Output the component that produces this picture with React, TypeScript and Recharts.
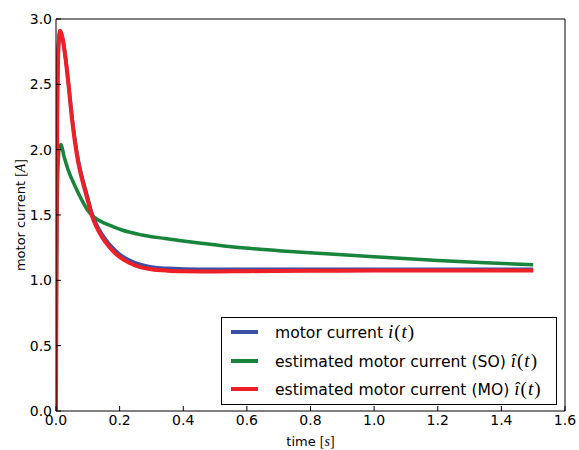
import React from 'react';
import { LineChart, Line, XAxis, YAxis, Label } from 'recharts';

// time samples [s] shared by the measured and MO-estimated current
const timeFast = [0, 0.001, 0.004, 0.008, 0.013, 0.02, 0.03, 0.04, 0.05, 0.06, 0.07, 0.08, 0.091, 0.1, 0.112, 0.125, 0.144, 0.165, 0.186, 0.205, 0.23, 0.26, 0.3, 0.35, 0.4, 0.5, 0.6, 0.8, 1.0, 1.2, 1.5];
const motorCurrent = [0, 1.0, 2.3, 2.8, 2.91, 2.86, 2.7, 2.49, 2.26, 2.07, 1.92, 1.81, 1.71, 1.63, 1.52, 1.44, 1.355, 1.285, 1.23, 1.19, 1.155, 1.125, 1.103, 1.092, 1.087, 1.084, 1.084, 1.084, 1.084, 1.084, 1.084];
const estimatedMO = [0, 1.0, 2.3, 2.8, 2.91, 2.86, 2.7, 2.48, 2.24, 2.05, 1.9, 1.79, 1.69, 1.61, 1.5, 1.42, 1.334, 1.262, 1.207, 1.17, 1.135, 1.105, 1.085, 1.074, 1.07, 1.068, 1.07, 1.073, 1.075, 1.075, 1.075];

// time samples [s] for the SO estimate
const timeSO = [0, 0.002, 0.006, 0.011, 0.016, 0.025, 0.039, 0.06, 0.081, 0.1, 0.112, 0.13, 0.154, 0.18, 0.207, 0.27, 0.343, 0.45, 0.55, 0.7, 0.85, 1.0, 1.2, 1.35, 1.5];
const estimatedSO = [0, 1.2, 1.85, 2.02, 2.04, 1.95, 1.84, 1.72, 1.615, 1.535, 1.5, 1.465, 1.436, 1.41, 1.385, 1.347, 1.32, 1.285, 1.257, 1.227, 1.203, 1.18, 1.152, 1.135, 1.12];

const xTicks = [0, 0.2, 0.4, 0.6, 0.8, 1.0, 1.2, 1.4, 1.6];
const yTicks = [0, 0.5, 1.0, 1.5, 2.0, 2.5, 3.0];

const BLUE = '#3a4fa6';
const GREEN = '#18843c';
const RED = '#ee1f27';

const SANS = '"DejaVu Sans", sans-serif';
const MATH = '"Liberation Serif", serif';
const TICK_LEN = 5;
const LABEL_GAP = 4;

const zip = (t: number[], v: number[]) => t.map((x, i) => ({ t: x, v: v[i] }));

const motorData = zip(timeFast, motorCurrent);
const moData = zip(timeFast, estimatedMO);
const soData = zip(timeSO, estimatedSO);

const legendRows = [
    { color: BLUE, text: 'motor current ', hat: false },
    { color: GREEN, text: 'estimated motor current (SO) ', hat: true },
    { color: RED, text: 'estimated motor current (MO) ', hat: true },
];

// matplotlib style: tick marks point into the plot, labels outside
const BottomTick = ({ x, y, payload }: any) => {
    const axisY = y - LABEL_GAP;
    return (
        <g>
            <line x1={x} x2={x} y1={axisY} y2={axisY - TICK_LEN} stroke="#000" />
            <text x={x} y={y} dy="0.71em" textAnchor="middle" fontFamily={SANS} fontSize={14} fill="#000">
                {payload.value.toFixed(1)}
            </text>
        </g>
    );
};

const LeftTick = ({ x, y, payload }: any) => {
    const axisX = x + LABEL_GAP;
    return (
        <g>
            <line x1={axisX} x2={axisX + TICK_LEN} y1={y} y2={y} stroke="#000" />
            <text x={x} y={y} dy="0.36em" textAnchor="end" fontFamily={SANS} fontSize={14} fill="#000">
                {payload.value.toFixed(1)}
            </text>
        </g>
    );
};

const TopTick = ({ x, y }: any) => <line x1={x} x2={x} y1={y} y2={y + TICK_LEN} stroke="#000" />;
const RightTick = ({ x, y }: any) => <line x1={x} x2={x - TICK_LEN} y1={y} y2={y} stroke="#000" />;

export default function App() {
    return (
        <div style={{ position: 'absolute', left: 0, top: 0, width: 579, height: 450, background: '#fff' }}>
            <LineChart width={579} height={450} margin={{ top: 0, right: 0, bottom: 0, left: 0 }}>
                <XAxis
                    xAxisId={0}
                    dataKey="t"
                    type="number"
                    domain={[0, 1.6]}
                    ticks={xTicks}
                    height={39}
                    tickSize={0}
                    tickMargin={LABEL_GAP}
                    tickLine={false}
                    axisLine={{ stroke: '#000' }}
                    tick={<BottomTick />}
                    interval={0}
                    allowDataOverflow
                >
                    <Label
                        content={({ viewBox }: any) => (
                            <text x={viewBox.x + viewBox.width / 2} y={viewBox.y + 35} textAnchor="middle" fontFamily={SANS} fontSize={13} fill="#000">
                                time <tspan fontFamily={MATH} fontSize={14}>[<tspan fontStyle="italic">s</tspan>]</tspan>
                            </text>
                        )}
                    />
                </XAxis>
                <XAxis
                    xAxisId="top"
                    orientation="top"
                    dataKey="t"
                    type="number"
                    domain={[0, 1.6]}
                    ticks={xTicks}
                    height={19}
                    tickSize={0}
                    tickMargin={0}
                    tickLine={false}
                    axisLine={{ stroke: '#000' }}
                    tick={<TopTick />}
                    interval={0}
                />
                <YAxis
                    yAxisId={0}
                    type="number"
                    domain={[0, 3]}
                    ticks={yTicks}
                    width={56}
                    tickSize={0}
                    tickMargin={LABEL_GAP}
                    tickLine={false}
                    axisLine={{ stroke: '#000' }}
                    tick={<LeftTick />}
                    interval={0}
                    allowDataOverflow
                >
                    <Label
                        content={({ viewBox }: any) => {
                            const cx = viewBox.x + 20;
                            const cy = viewBox.y + viewBox.height / 2;
                            return (
                                <text x={cx} y={cy} transform={`rotate(-90 ${cx} ${cy})`} textAnchor="middle" dominantBaseline="central" fontFamily={SANS} fontSize={13} fill="#000">
                                    motor current <tspan fontFamily={MATH} fontSize={14}>[<tspan fontStyle="italic">A</tspan>]</tspan>
                                </text>
                            );
                        }}
                    />
                </YAxis>
                <YAxis
                    yAxisId="right"
                    orientation="right"
                    type="number"
                    domain={[0, 3]}
                    ticks={yTicks}
                    width={14}
                    tickSize={0}
                    tickMargin={0}
                    tickLine={false}
                    axisLine={{ stroke: '#000' }}
                    tick={<RightTick />}
                    interval={0}
                />
                <Line data={motorData} dataKey="v" type="monotone" stroke={BLUE} strokeWidth={3.5} dot={false} isAnimationActive={false} />
                <Line data={soData} dataKey="v" type="monotone" stroke={GREEN} strokeWidth={3.5} dot={false} isAnimationActive={false} />
                <Line data={moData} dataKey="v" type="monotone" stroke={RED} strokeWidth={4} dot={false} isAnimationActive={false} />
            </LineChart>
            <div
                style={{
                    position: 'absolute', left: 221, top: 317, width: 336, height: 88,
                    border: '1px solid #000', background: '#fff', boxSizing: 'border-box', paddingTop: 0,
                }}
            >
                {legendRows.map((r) => (
                    <div key={r.text} style={{ display: 'flex', alignItems: 'center', height: 28.5 }}>
                        <span style={{ display: 'inline-block', width: 27, height: 4, background: r.color, marginLeft: 9, marginRight: 17 }} />
                        <span style={{ fontFamily: SANS, fontSize: 15.6, whiteSpace: 'nowrap' }}>
                            {r.text}
                            <span style={{ fontFamily: MATH, fontSize: 19, letterSpacing: 1 }}>
                                <i>{r.hat ? 'î' : 'i'}</i>(<i>t</i>)
                            </span>
                        </span>
                    </div>
                ))}
            </div>
        </div>
    );
}
